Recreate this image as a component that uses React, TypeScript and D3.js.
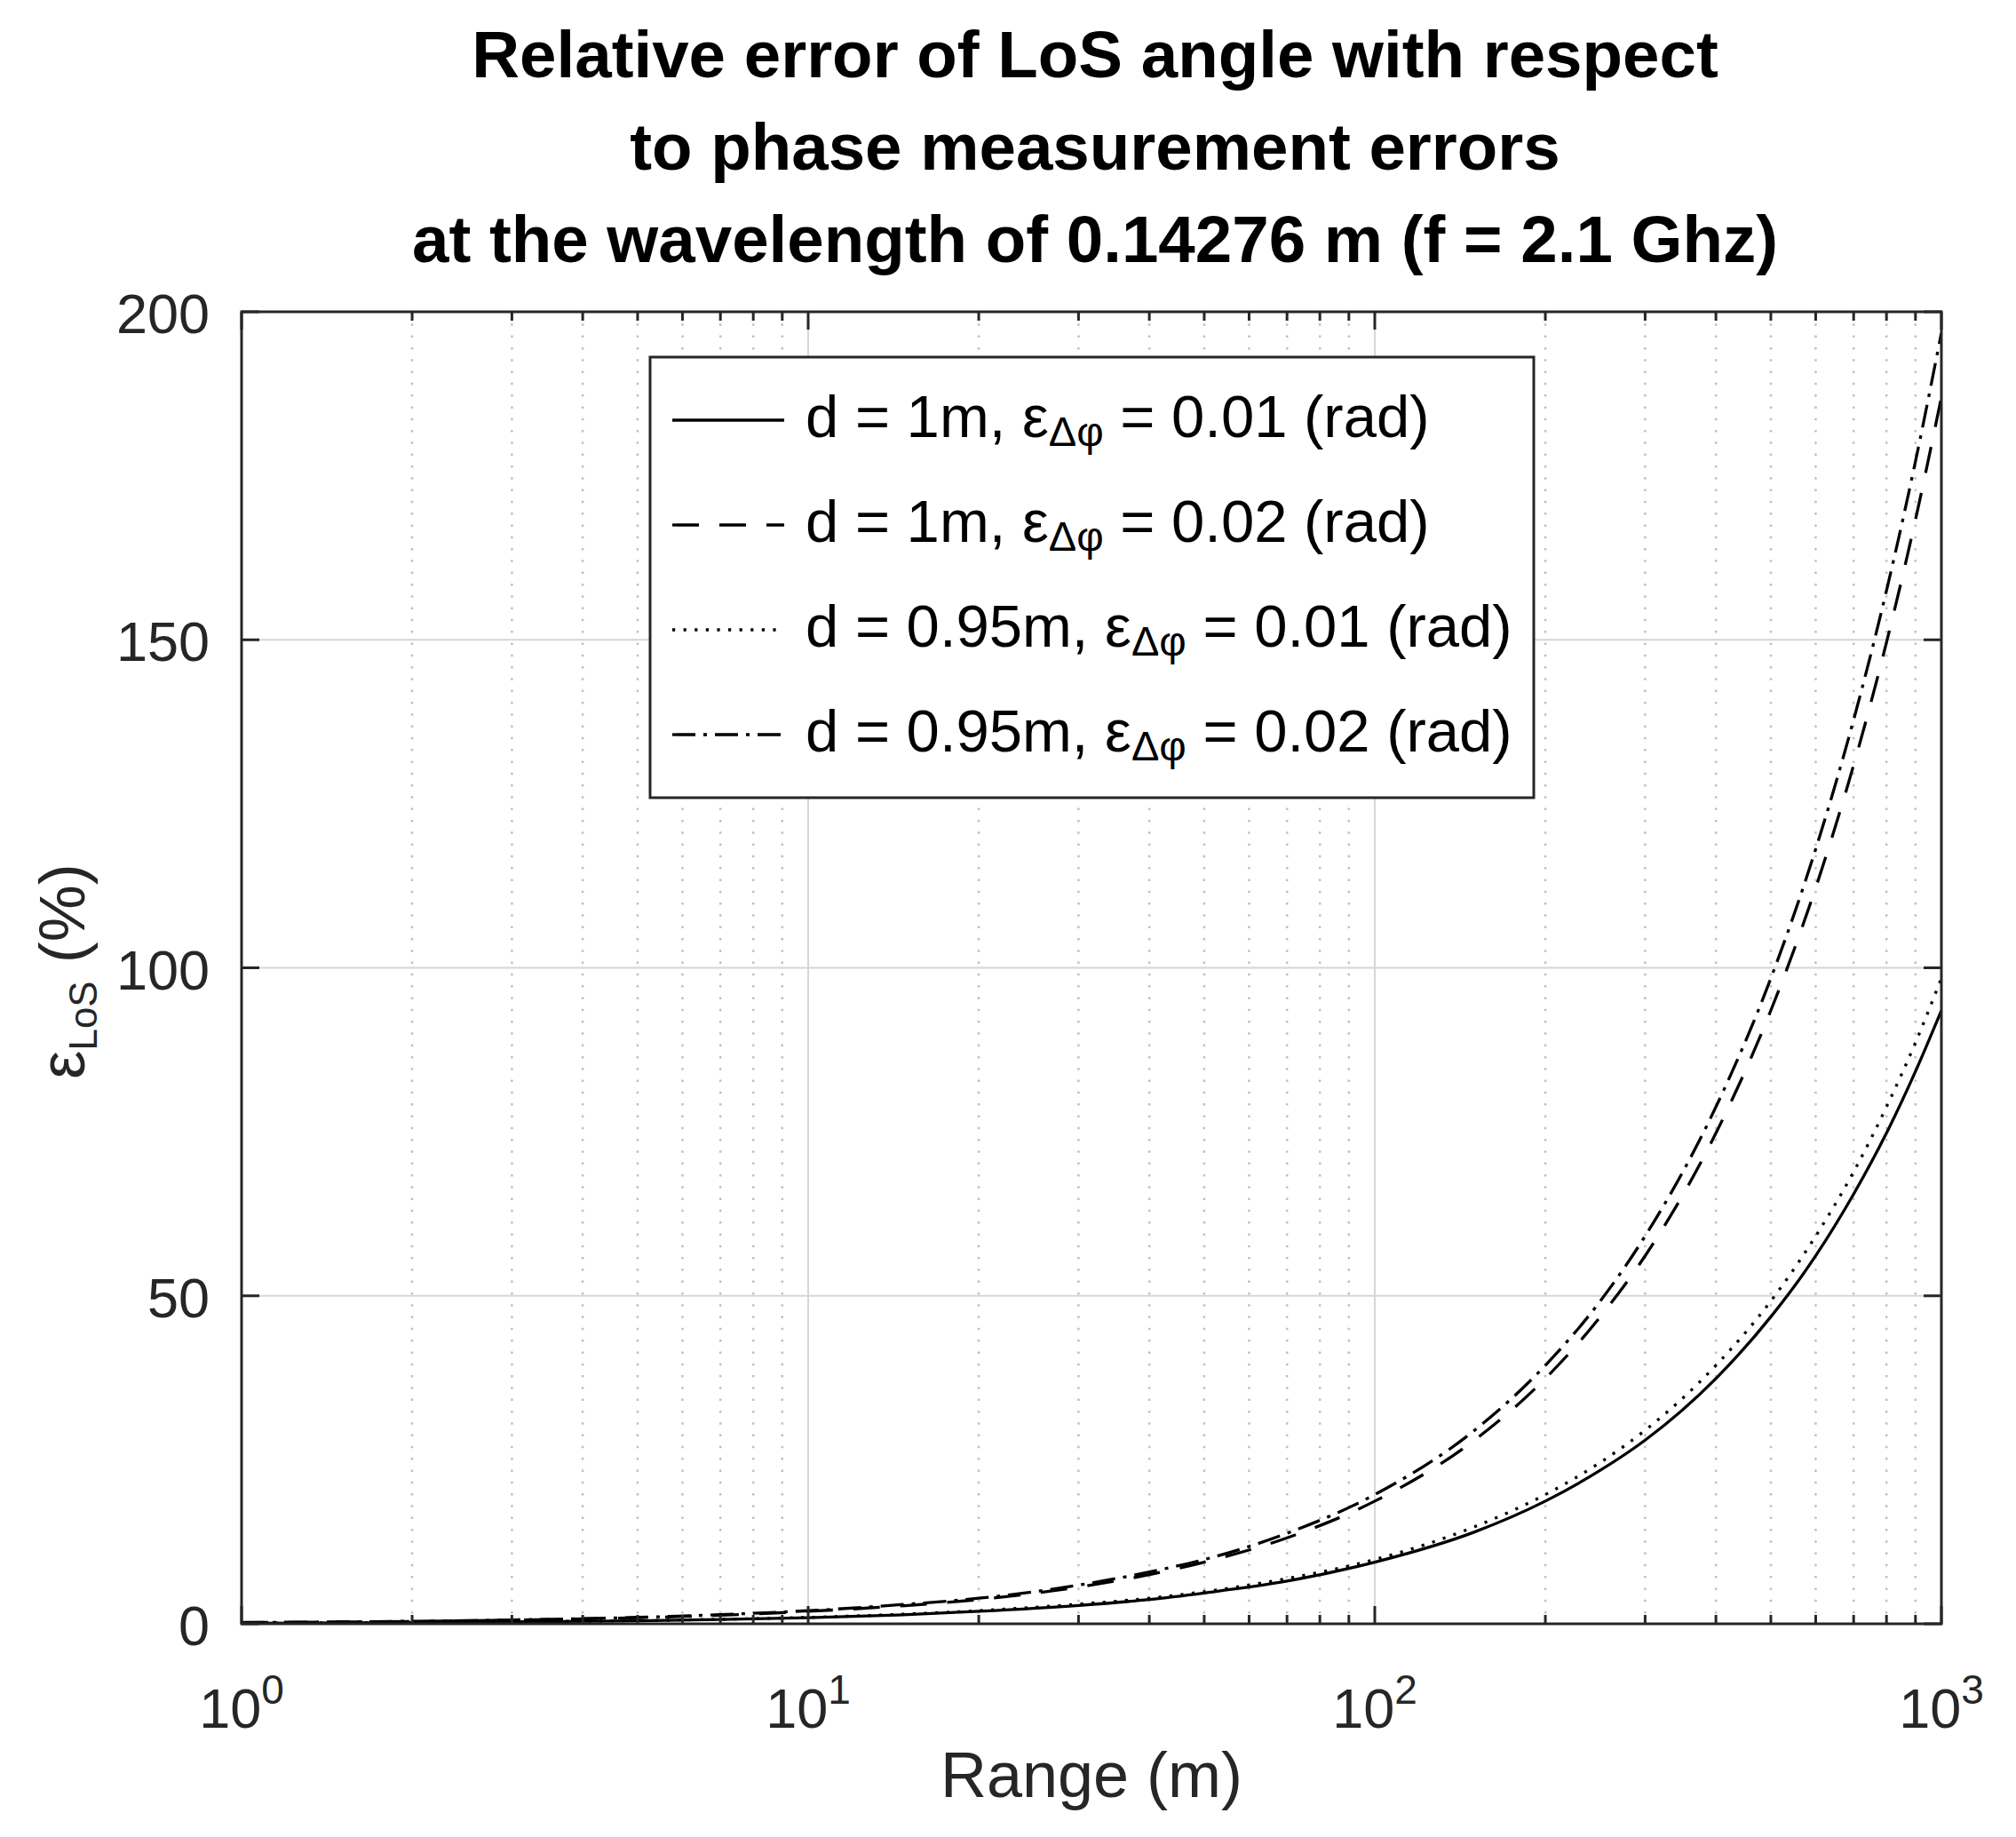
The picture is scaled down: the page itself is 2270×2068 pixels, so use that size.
import React, { useEffect, useRef } from 'react';
import * as d3 from 'd3';

// Range (m) sample points
const ranges = [1, 2, 3, 5, 7, 10, 15, 20, 30, 40, 50, 70, 100, 150, 200, 250, 300, 400, 500, 600, 700, 800, 900, 1000];

// Relative error of LoS angle (%) for each configuration
const errD100E01 = [0.09, 0.19, 0.28, 0.47, 0.65, 0.94, 1.4, 1.9, 2.8, 3.7, 4.7, 6.5, 9.4, 14.0, 18.7, 23.4, 28.0, 37.4, 46.8, 56.1, 65.5, 74.8, 84.2, 93.5];
const errD100E02 = [0.19, 0.37, 0.56, 0.94, 1.3, 1.9, 2.8, 3.7, 5.6, 7.5, 9.4, 13.1, 18.7, 28.0, 37.4, 46.8, 56.1, 74.8, 93.5, 112.2, 130.9, 149.6, 168.3, 187.0];
const errD095E01 = [0.1, 0.2, 0.3, 0.49, 0.69, 0.98, 1.5, 2.0, 3.0, 3.9, 4.9, 6.9, 9.8, 14.8, 19.7, 24.6, 29.5, 39.4, 49.2, 59.1, 68.9, 78.8, 88.6, 98.4];
const errD095E02 = [0.2, 0.39, 0.59, 0.98, 1.4, 2.0, 3.0, 3.9, 5.9, 7.9, 9.8, 13.8, 19.7, 29.5, 39.4, 49.2, 59.1, 78.8, 98.4, 118.1, 137.8, 157.5, 177.2, 196.8];

// Legend labels
const antennaSpacing = ['1m', '1m', '0.95m', '0.95m'];
const phaseError = ['0.01', '0.02', '0.01', '0.02'];

const titleLines = [
  'Relative error of LoS angle with respect',
  'to phase measurement errors',
  'at the wavelength of 0.14276 m (f = 2.1 Ghz)',
];

const xMajorTicks = [1, 10, 100, 1000];
const yTicks = [0, 50, 100, 150, 200];

const FONT = '"Liberation Sans", Arial, Helvetica, sans-serif';

const App: React.FC = () => {
  const svgRef = useRef<SVGSVGElement>(null);

  useEffect(() => {
    if (!svgRef.current) return;
    const svg = d3.select(svgRef.current);
    svg.selectAll('*').remove();

    const width = 2270;
    const height = 2068;
    const left = 272;
    const right = 2186;
    const top = 351;
    const bottom = 1828;

    const x = d3.scaleLog().domain([1, 1000]).range([left, right]);
    const y = d3.scaleLinear().domain([0, 200]).range([bottom, top]);

    svg.attr('width', width).attr('height', height);

    svg.append('rect').attr('width', width).attr('height', height).attr('fill', '#fff');

    // Clip for the curves
    svg
      .append('defs')
      .append('clipPath')
      .attr('id', 'plot-clip')
      .append('rect')
      .attr('x', left)
      .attr('y', top)
      .attr('width', right - left)
      .attr('height', bottom - top);

    const allXTicks = x.ticks();
    const isMajor = (v: number) => Math.abs(Math.log10(v) - Math.round(Math.log10(v))) < 1e-9;
    const minorX = allXTicks.filter(v => !isMajor(v));

    // Minor dotted grid
    svg
      .append('g')
      .selectAll('line')
      .data(minorX)
      .enter()
      .append('line')
      .attr('x1', d => x(d))
      .attr('x2', d => x(d))
      .attr('y1', top)
      .attr('y2', bottom)
      .attr('stroke', '#c0c0c0')
      .attr('stroke-width', 2.5)
      .attr('stroke-dasharray', '2.5,10.8');

    // Major grid
    const grid = svg.append('g').attr('stroke', '#d6d6d6').attr('stroke-width', 2);
    grid
      .selectAll('line.gx')
      .data(xMajorTicks.slice(1, -1))
      .enter()
      .append('line')
      .attr('x1', d => x(d))
      .attr('x2', d => x(d))
      .attr('y1', top)
      .attr('y2', bottom);
    grid
      .selectAll('line.gy')
      .data(yTicks.slice(1, -1))
      .enter()
      .append('line')
      .attr('x1', left)
      .attr('x2', right)
      .attr('y1', d => y(d))
      .attr('y2', d => y(d));

    // Series
    const series = [
      { values: errD100E01, dash: null },
      { values: errD100E02, dash: '30,23' },
      { values: errD095E01, dash: '3.2,9.4' },
      { values: errD095E02, dash: '26,9,4,9' },
    ];

    const line = d3
      .line<number>()
      .x((_, i) => x(ranges[i]))
      .y(d => y(d))
      .curve(d3.curveMonotoneX);

    const lines = svg.append('g').attr('clip-path', 'url(#plot-clip)');
    series.forEach(s => {
      lines
        .append('path')
        .attr('d', line(s.values))
        .attr('fill', 'none')
        .attr('stroke', '#000')
        .attr('stroke-width', 3.3)
        .attr('stroke-dasharray', s.dash);
    });

    // Legend
    const lg = svg.append('g');
    lg.append('rect')
      .attr('x', 732)
      .attr('y', 402)
      .attr('width', 995)
      .attr('height', 496)
      .attr('fill', '#fff')
      .attr('stroke', '#262626')
      .attr('stroke-width', 3);

    series.forEach((s, i) => {
      const base = 492 + i * 118;
      lg.append('line')
        .attr('x1', 757)
        .attr('x2', 883)
        .attr('y1', base - 19)
        .attr('y2', base - 19)
        .attr('stroke', '#000')
        .attr('stroke-width', 3.3)
        .attr('stroke-dasharray', s.dash);
      const t = lg
        .append('text')
        .attr('x', 907)
        .attr('y', base)
        .attr('font-family', FONT)
        .attr('font-size', 67)
        .attr('fill', '#000');
      t.append('tspan').text(`d = ${antennaSpacing[i]}, ε`);
      t.append('tspan').attr('font-size', 47).attr('dy', 10).text('Δφ');
      t.append('tspan').attr('dy', -10).text(` = ${phaseError[i]} (rad)`);
    });

    // Axis box
    svg
      .append('rect')
      .attr('x', left)
      .attr('y', top)
      .attr('width', right - left)
      .attr('height', bottom - top)
      .attr('fill', 'none')
      .attr('stroke', '#262626')
      .attr('stroke-width', 3);

    // Ticks (inward, both sides)
    const ticks = svg.append('g').attr('stroke', '#262626').attr('stroke-width', 3);
    allXTicks.forEach(v => {
      const len = isMajor(v) ? 20 : 10;
      ticks.append('line').attr('x1', x(v)).attr('x2', x(v)).attr('y1', bottom).attr('y2', bottom - len);
      ticks.append('line').attr('x1', x(v)).attr('x2', x(v)).attr('y1', top).attr('y2', top + len);
    });
    yTicks.forEach(v => {
      ticks.append('line').attr('x1', left).attr('x2', left + 20).attr('y1', y(v)).attr('y2', y(v));
      ticks.append('line').attr('x1', right).attr('x2', right - 20).attr('y1', y(v)).attr('y2', y(v));
    });

    // Y tick labels
    svg
      .append('g')
      .selectAll('text')
      .data(yTicks)
      .enter()
      .append('text')
      .attr('x', 236)
      .attr('y', d => y(d) + 24)
      .attr('text-anchor', 'end')
      .attr('font-family', FONT)
      .attr('font-size', 63)
      .attr('fill', '#262626')
      .text(d => d);

    // X tick labels (10^n)
    xMajorTicks.forEach(v => {
      const t = svg
        .append('text')
        .attr('x', x(v))
        .attr('y', 1945)
        .attr('text-anchor', 'middle')
        .attr('font-family', FONT)
        .attr('font-size', 63)
        .attr('fill', '#262626');
      t.append('tspan').text('10');
      t.append('tspan').attr('font-size', 46).attr('dy', -27).text(Math.round(Math.log10(v)));
    });

    // Axis labels
    svg
      .append('text')
      .attr('x', (left + right) / 2)
      .attr('y', 2023)
      .attr('text-anchor', 'middle')
      .attr('font-family', FONT)
      .attr('font-size', 72)
      .attr('fill', '#262626')
      .text('Range (m)');

    const yl = svg
      .append('text')
      .attr('transform', `translate(95,${(top + bottom) / 2 + 4}) rotate(-90)`)
      .attr('text-anchor', 'middle')
      .attr('font-family', FONT)
      .attr('font-size', 72)
      .attr('fill', '#262626');
    yl.append('tspan').text('ε');
    yl.append('tspan').attr('font-size', 44).attr('dy', 14).text('LoS');
    yl.append('tspan').attr('dy', -14).text(' (%)');

    // Title
    svg
      .append('g')
      .selectAll('text')
      .data(titleLines)
      .enter()
      .append('text')
      .attr('x', (left + right) / 2 + 4)
      .attr('y', (_, i) => 87 + i * 104)
      .attr('text-anchor', 'middle')
      .attr('font-family', FONT)
      .attr('font-weight', 'bold')
      .attr('font-size', 74.5)
      .attr('fill', '#000')
      .text(d => d);
  }, []);

  return (
    <div style={{ position: 'absolute', left: 0, top: 0 }}>
      <svg ref={svgRef} style={{ display: 'block' }}></svg>
    </div>
  );
};

export default App;
